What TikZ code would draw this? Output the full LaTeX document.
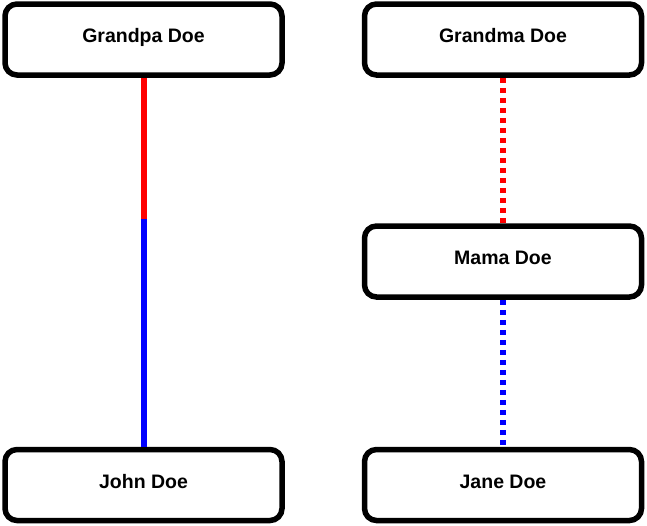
\documentclass[tikz,border=0pt]{standalone}
\usepackage{fontspec}
\setmainfont{Liberation Sans}
\usetikzlibrary{calc}

\begin{document}
\begin{tikzpicture}[x=1pt, y=-1pt,
    person/.style={draw, line width=5.5pt, rounded corners=12pt, fill=white,
        minimum width=277pt, minimum height=71pt, inner sep=0pt,
        text height=14pt, text depth=7.5pt,
        font=\fontsize{19.5}{23}\selectfont\bfseries},
    link/.style={line width=6pt}]
     \useasboundingbox (0,0) rectangle (647,525);
     \node[person] (grandpa) at (143.5,39.5) {Grandpa Doe};
     \node[person] (grandma) at (503,39.5) {Grandma Doe};
     \node[person] (mama) at (503,261.5) {Mama Doe};
     \node[person] (john) at (143.5,485) {John Doe};
     \node[person] (jane) at (503,485) {Jane Doe};
     \coordinate (split) at (143.5,219);
\draw[link, red] (grandpa.south) -- (split);
\draw[link, blue] (split) -- (john.north);
%\draw (grandpa) -- (grandma);
\draw[link, red, dash pattern=on 5pt off 5pt] (grandma.south) -- (mama.north);
\draw[link, blue, dash pattern=on 5pt off 5pt] (mama.south) -- (jane.north);
\end{tikzpicture}
\end{document}
